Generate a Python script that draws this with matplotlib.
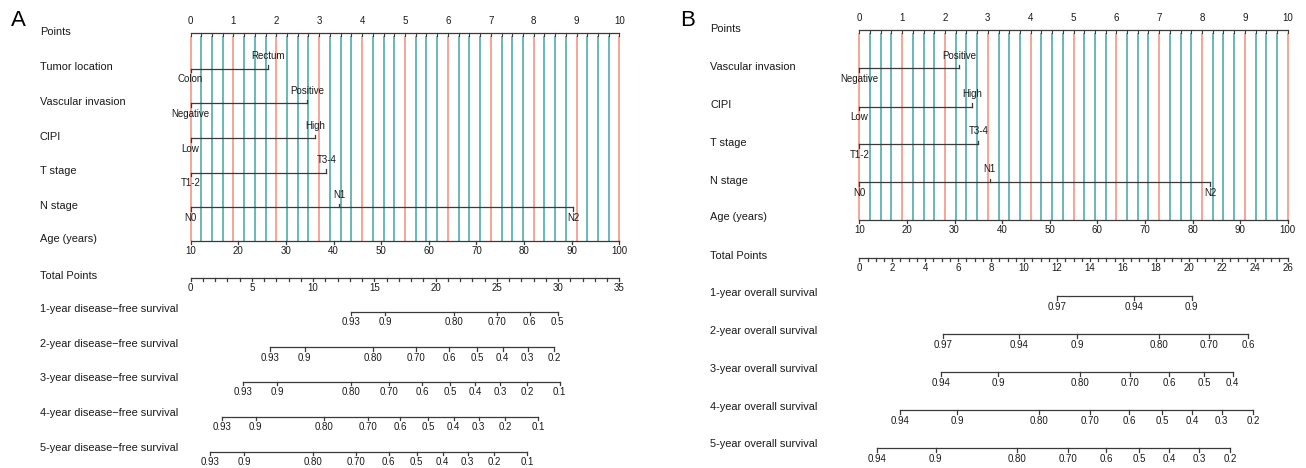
import matplotlib
matplotlib.use('Agg')
import matplotlib.pyplot as plt
from matplotlib.transforms import blended_transform_factory
import numpy as np

plt.rcParams['font.family'] = ['Liberation Sans', 'DejaVu Sans']

W, H = 1306, 468

# ---------------- Panel A data ----------------
a_points_labels = [0, 1, 2, 3, 4, 5, 6, 7, 8, 9, 10]
a_age_labels = [10, 20, 30, 40, 50, 60, 70, 80, 90, 100]
a_age_points_range = [0.0, 10.0]          # points for age 10 and age 100
a_total_labels = [0, 5, 10, 15, 20, 25, 30, 35]
a_total_max = 35

a_tumor_levels = ['Colon', 'Rectum']
a_tumor_points = [0.0, 1.81]
a_vasc_levels = ['Negative', 'Positive']
a_vasc_points = [0.0, 2.71]
a_cipi_levels = ['Low', 'High']
a_cipi_points = [0.0, 2.90]
a_t_levels = ['T1-2', 'T3-4']
a_t_points = [0.0, 3.17]
a_n_levels = ['N0', 'N1', 'N2']
a_n_points = [0.0, 3.47, 8.92]

a_surv_titles = ['1-year disease\u2212free survival', '2-year disease\u2212free survival',
                 '3-year disease\u2212free survival', '4-year disease\u2212free survival',
                 '5-year disease\u2212free survival']
a_s1_labels = ['0.93', '0.9', '0.80', '0.70', '0.6', '0.5']
a_s1_total = [13.09, 15.87, 21.47, 24.98, 27.67, 29.96]
a_s2_labels = ['0.93', '0.9', '0.80', '0.70', '0.6', '0.5', '0.4', '0.3', '0.2']
a_s2_total = [6.51, 9.31, 14.92, 18.43, 21.12, 23.40, 25.47, 27.50, 29.68]
a_s3_labels = ['0.93', '0.9', '0.80', '0.70', '0.6', '0.5', '0.4', '0.3', '0.2', '0.1']
a_s3_total = [4.31, 7.08, 13.07, 16.22, 18.89, 21.20, 23.24, 25.28, 27.45, 30.12]
a_s4_labels = ['0.93', '0.9', '0.80', '0.70', '0.6', '0.5', '0.4', '0.3', '0.2', '0.1']
a_s4_total = [2.54, 5.32, 10.92, 14.46, 17.12, 19.38, 21.47, 23.51, 25.66, 28.35]
a_s5_labels = ['0.93', '0.9', '0.80', '0.70', '0.6', '0.5', '0.4', '0.3', '0.2', '0.1']
a_s5_total = [1.62, 4.39, 9.99, 13.50, 16.17, 18.45, 20.58, 22.62, 24.76, 27.45]

# ---------------- Panel B data ----------------
b_points_labels = [0, 1, 2, 3, 4, 5, 6, 7, 8, 9, 10]
b_age_labels = [10, 20, 30, 40, 50, 60, 70, 80, 90, 100]
b_age_points_range = [0.0, 10.0]
b_total_labels = [0, 2, 4, 6, 8, 10, 12, 14, 16, 18, 20, 22, 24, 26]
b_total_max = 26

b_vasc_levels = ['Negative', 'Positive']
b_vasc_points = [0.0, 2.33]
b_cipi_levels = ['Low', 'High']
b_cipi_points = [0.0, 2.64]
b_t_levels = ['T1-2', 'T3-4']
b_t_points = [0.0, 2.78]
b_n_levels = ['N0', 'N1', 'N2']
b_n_points = [0.0, 3.04, 8.19]

b_surv_titles = ['1-year overall survival', '2-year overall survival',
                 '3-year overall survival', '4-year overall survival',
                 '5-year overall survival']
b_s1_labels = ['0.97', '0.94', '0.9']
b_s1_total = [12.00, 16.67, 20.17]
b_s2_labels = ['0.97', '0.94', '0.9', '0.80', '0.70', '0.6']
b_s2_total = [5.06, 9.71, 13.23, 18.17, 21.22, 23.61]
b_s3_labels = ['0.94', '0.9', '0.80', '0.70', '0.6', '0.5', '0.4']
b_s3_total = [4.94, 8.44, 13.38, 16.45, 18.81, 20.94, 22.66]
b_s4_labels = ['0.94', '0.9', '0.80', '0.70', '0.6', '0.5', '0.4', '0.3', '0.2']
b_s4_total = [2.47, 5.95, 10.92, 14.00, 16.37, 18.37, 20.21, 21.99, 23.91]
b_s5_labels = ['0.94', '0.9', '0.80', '0.70', '0.6', '0.5', '0.4', '0.3', '0.2']
b_s5_total = [1.09, 4.64, 9.57, 12.65, 14.99, 16.99, 18.81, 20.64, 22.52]

# ---------------- style ----------------
TXT = '#1a1a1a'
AX = '#3a3a3a'
RED = '#F7907E'
TEAL = '#48A6A6'
LW = 0.9
ROW_FS = 7.9
TICK_FS = 7.0
CAT_FS = 7.0


def draw_panel(fig, left_px, right_px, label_x_px, letter, letter_x_px,
               points_labels, cat_vars, age_labels, age_range, total_labels,
               total_max, total_minor, surv_titles, surv_sets, layout):
    ax = fig.add_axes([left_px / W, 0, (right_px - left_px) / W, 1])
    ax.set_xlim(0, 10)
    ax.set_ylim(H, 0)
    ax.axis('off')
    tr = blended_transform_factory(fig.transFigure, ax.transData)
    lx = label_x_px / W

    fig.text(letter_x_px / W, 1 - 20 / H, letter, fontsize=16, va='center',
             ha='left', color='black')

    y_pts = layout['points']
    y_age = layout['age']

    # grid lines every 0.25 point
    for g in np.arange(0, 10.0001, 0.25):
        col = RED if abs(g - round(g)) < 1e-6 else TEAL
        ax.plot([g, g], [y_pts + 2.5, y_age], color=col, lw=1.15, zorder=1,
                solid_capstyle='butt', clip_on=False)

    # Points axis
    ax.text(lx, layout['points_lab'], 'Points', transform=tr, fontsize=ROW_FS,
            va='center', ha='left', color=TXT)
    ax.plot([0, 10], [y_pts, y_pts], color=AX, lw=LW, zorder=3, clip_on=False)
    for g in np.arange(0, 10.0001, 0.25):
        ax.plot([g, g], [y_pts, y_pts + 2.5], color=AX, lw=0.8, zorder=3, clip_on=False)
    for p in points_labels:
        ax.text(p, y_pts - 12, str(p), fontsize=TICK_FS, ha='center', va='center',
                color=TXT)

    # categorical variables
    for (name, levels, pts), y, ylab in zip(cat_vars, layout['cats'], layout['cats_lab']):
        ax.text(lx, ylab, name, transform=tr, fontsize=ROW_FS, va='center',
                ha='left', color=TXT)
        ax.plot([min(pts), max(pts)], [y, y], color=AX, lw=LW, zorder=3, clip_on=False)
        for i, (lev, p) in enumerate(zip(levels, pts)):
            if i % 2 == 1:
                ax.plot([p, p], [y, y - 3.5], color=AX, lw=LW, zorder=3, clip_on=False)
                ax.text(p, y - 12.5, lev, fontsize=CAT_FS, ha='center', va='center',
                        color=TXT, zorder=4)
            else:
                ax.plot([p, p], [y, y + 3.5], color=AX, lw=LW, zorder=3, clip_on=False)
                ax.text(p, y + 10.5, lev, fontsize=CAT_FS, ha='center', va='center',
                        color=TXT, zorder=4)

    # Age axis
    ax.text(lx, layout['age_lab'], 'Age (years)', transform=tr, fontsize=ROW_FS,
            va='center', ha='left', color=TXT)
    ax.plot([0, 10], [y_age, y_age], color=AX, lw=LW, zorder=3, clip_on=False)
    a0, a1 = age_labels[0], age_labels[-1]
    for a in age_labels:
        p = age_range[0] + (a - a0) / (a1 - a0) * (age_range[1] - age_range[0])
        ax.plot([p, p], [y_age, y_age + 3], color=AX, lw=LW, zorder=3, clip_on=False)
        ax.text(p, y_age + 10, str(a), fontsize=TICK_FS, ha='center', va='center',
                color=TXT)

    # Total points
    y_tot = layout['total']
    ax.text(lx, layout['total_lab'], 'Total Points', transform=tr, fontsize=ROW_FS,
            va='center', ha='left', color=TXT)
    sc = 10.0 / total_max
    ax.plot([0, 10], [y_tot, y_tot], color=AX, lw=LW, zorder=3, clip_on=False)
    for t in np.arange(0, total_max + 1e-6, total_minor):
        ax.plot([t * sc, t * sc], [y_tot, y_tot + 3], color=AX, lw=LW, zorder=3,
                clip_on=False)
    for t in total_labels:
        ax.text(t * sc, y_tot + 9.5, str(t), fontsize=TICK_FS, ha='center',
                va='center', color=TXT)

    # survival axes
    for title, (labs, tots), y, ylab in zip(surv_titles, surv_sets, layout['surv'],
                                            layout['surv_lab']):
        ax.text(lx, ylab, title, transform=tr, fontsize=ROW_FS, va='center',
                ha='left', color=TXT)
        xs = [t * sc for t in tots]
        ax.plot([min(xs), max(xs)], [y, y], color=AX, lw=LW, zorder=3, clip_on=False)
        for lab, xx in zip(labs, xs):
            ax.plot([xx, xx], [y, y + 3.5], color=AX, lw=LW, zorder=3, clip_on=False)
            ax.text(xx, y + 10.5, lab, fontsize=TICK_FS, ha='center', va='center',
                    color=TXT)
    return ax


fig = plt.figure(figsize=(W / 100, H / 100), dpi=100)

a_cats = [('Tumor location', a_tumor_levels, a_tumor_points),
          ('Vascular invasion', a_vasc_levels, a_vasc_points),
          ('CIPI', a_cipi_levels, a_cipi_points),
          ('T stage', a_t_levels, a_t_points),
          ('N stage', a_n_levels, a_n_points)]
a_surv = [(a_s1_labels, a_s1_total), (a_s2_labels, a_s2_total),
          (a_s3_labels, a_s3_total), (a_s4_labels, a_s4_total),
          (a_s5_labels, a_s5_total)]
a_layout = dict(points=33, points_lab=32,
                cats=[68.7, 103.3, 138.3, 172.7, 207.3],
                cats_lab=[67, 102, 137, 171, 206],
                age=241, age_lab=239.5,
                total=278.3, total_lab=275.7,
                surv=[311.7, 347.3, 381.7, 416.7, 451.7],
                surv_lab=[309, 343.7, 378, 413, 448])
draw_panel(fig, 190.5, 619.5, 40, 'A', 11, a_points_labels, a_cats, a_age_labels,
           a_age_points_range, a_total_labels, a_total_max, 1, a_surv_titles,
           a_surv, a_layout)

b_cats = [('Vascular invasion', b_vasc_levels, b_vasc_points),
          ('CIPI', b_cipi_levels, b_cipi_points),
          ('T stage', b_t_levels, b_t_points),
          ('N stage', b_n_levels, b_n_points)]
b_surv = [(b_s1_labels, b_s1_total), (b_s2_labels, b_s2_total),
          (b_s3_labels, b_s3_total), (b_s4_labels, b_s4_total),
          (b_s5_labels, b_s5_total)]
b_layout = dict(points=30, points_lab=29,
                cats=[68.3, 106.7, 144, 182],
                cats_lab=[67, 105, 143, 181],
                age=220, age_lab=217,
                total=258.3, total_lab=256,
                surv=[296, 334, 372.3, 410.3, 448.3],
                surv_lab=[293, 330.7, 368.7, 406.7, 444.3])
draw_panel(fig, 859.3, 1287.7, 710, 'B', 680, b_points_labels, b_cats, b_age_labels,
           b_age_points_range, b_total_labels, b_total_max, 0.5, b_surv_titles,
           b_surv, b_layout)

fig.savefig('out.png', dpi=100, facecolor='white')
